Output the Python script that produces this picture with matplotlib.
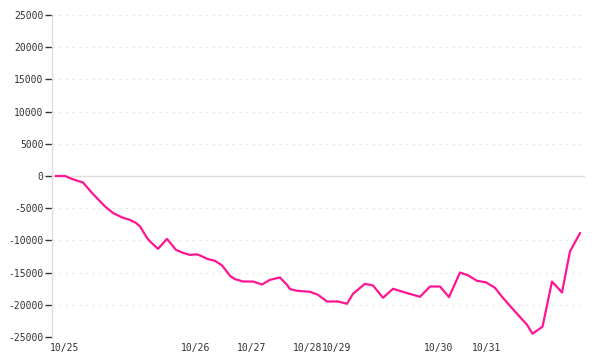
import numpy as np
import matplotlib
matplotlib.use("Agg")
import matplotlib.pyplot as plt

# x positions along the (irregular) time axis, values of the series
t = [4, 13, 20, 31, 40, 53, 61, 70, 78, 84, 88, 95, 98, 106, 115, 124, 131,
     138, 145, 150, 155, 163, 170, 178, 183, 191, 201, 210, 218, 228, 235,
     238, 245, 258, 266, 275, 286, 295, 301, 313, 321, 331, 341, 354, 368,
     378, 388, 397, 408, 416, 425, 434, 443, 450, 461, 470, 475, 480.5,
     490.5, 500, 510, 518, 528]
v = [0, 0, -465, -1010, -2635, -4730, -5735, -6430, -6820, -7285, -7830,
     -9610, -10150, -11315, -9765, -11470, -11935, -12245, -12165, -12475,
     -12865, -13175, -13870, -15500, -16010, -16385, -16385, -16850, -16120,
     -15765, -16895, -17560, -17825, -17980, -18445, -19485, -19485, -19840,
     -18290, -16740, -17000, -18910, -17515, -18135, -18755, -17160, -17160,
     -18800, -14990, -15420, -16275, -16510, -17360, -18755, -20690, -22240,
     -23095, -24490, -23405, -16385, -18090, -11700, -8880]

day_pos = [12.5, 143.5, 199.5, 256, 284.5, 387, 434.5]
day_labels = ["10/25", "10/26", "10/27", "10/28", "10/29", "10/30", "10/31"]
yticks = [25000, 20000, 15000, 10000, 5000, 0, -5000, -10000, -15000, -20000, -25000]

fig = plt.figure(figsize=(6, 3.6), dpi=100)
ax = fig.add_axes([52/600, 1-337/360, 533/600, 322/360])

for y in yticks:
    if y == 0:
        ax.axhline(y, color="#dddddd", lw=1, zorder=1)
    else:
        ax.axhline(y, color="#e6e6e6", lw=0.8, ls=(0, (2, 4)), zorder=1)

ax.plot(t, v, color="#ff1493", lw=1.6, zorder=3)

ax.set_xlim(0, 533)
ax.set_ylim(-25000, 25000)
ax.set_yticks(yticks)
ax.set_yticklabels([str(y) for y in yticks])
ax.set_xticks(day_pos)
ax.set_xticklabels(day_labels)

for s in ["top", "right", "bottom"]:
    ax.spines[s].set_visible(False)
ax.spines["left"].set_color("#dddddd")
ax.spines["left"].set_linewidth(1)

ax.tick_params(axis="y", length=5, width=1, color="#333333", pad=1,
               labelsize=7, labelcolor="#333333")
ax.tick_params(axis="x", length=0, pad=4, labelsize=7, labelcolor="#333333")
for lab in ax.get_xticklabels() + ax.get_yticklabels():
    lab.set_family("DejaVu Sans Mono")

fig.savefig("out.png", dpi=100)
